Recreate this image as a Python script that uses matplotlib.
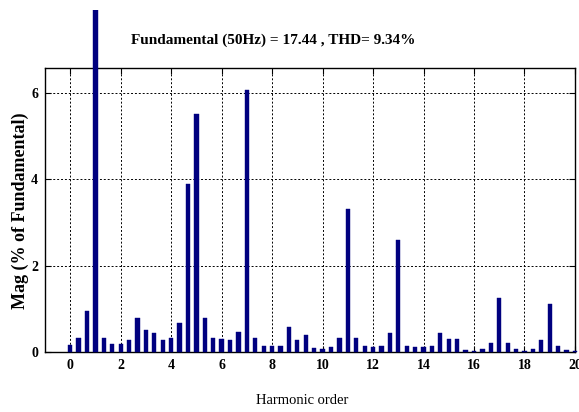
import matplotlib
matplotlib.use("Agg")
import matplotlib.pyplot as plt
from matplotlib.transforms import Bbox, TransformedBbox

# harmonic order in steps of 1/3 (0 .. 20)
orders = [k / 3 for k in range(61)]
mag = [0.17, 0.33, 0.95, 100.0, 0.33, 0.19, 0.19, 0.27, 0.79, 0.50,
       0.43, 0.27, 0.33, 0.68, 3.90, 5.50, 0.79, 0.33, 0.29, 0.27,
       0.46, 6.07, 0.33, 0.15, 0.14, 0.15, 0.59, 0.27, 0.39, 0.10,
       0.08, 0.12, 0.33, 3.30, 0.33, 0.15, 0.12, 0.15, 0.43, 2.60,
       0.15, 0.12, 0.12, 0.15, 0.43, 0.29, 0.29, 0.04, 0.03, 0.06,
       0.22, 1.24, 0.22, 0.06, 0.02, 0.06, 0.27, 1.10, 0.15, 0.04,
       0.02]
xticks = [0, 2, 4, 6, 8, 10, 12, 14, 16, 18, 20]
yticks = [0, 2, 4, 6]

title = "Fundamental (50Hz) = 17.44 , THD= 9.34%"
serif = "Liberation Serif"


def main():
    fig = plt.figure(figsize=(5.79, 4.12), dpi=100)
    ax = fig.add_axes([0.0777, 0.1456, 0.9153, 0.689])

    bars = ax.bar(orders, mag, width=0.17, color="#00007f", edgecolor="#00007f",
                  linewidth=0.3, zorder=3)
    # the fundamental bar runs out of the axes, up to near the top of the figure
    box = TransformedBbox(Bbox([[0, 0], [1, 402 / 412]]), fig.transFigure)
    for b in bars:
        b.set_clip_box(box)

    ax.set_xlim(-1, 20)
    ax.set_ylim(0, 6.57)
    ax.set_xticks(xticks)
    ax.set_yticks(yticks)
    ax.set_xticklabels([str(t) for t in xticks], fontfamily=serif,
                       fontweight="bold", fontsize=10)
    ax.set_yticklabels([str(t) for t in yticks], fontfamily=serif,
                       fontweight="bold", fontsize=10)
    ax.tick_params(direction="in", length=4, width=0.8, top=True, right=True,
                   pad=5)
    ax.grid(True, color="black", linestyle=(0, (2, 2)), linewidth=0.7, zorder=0)
    for s in ax.spines.values():
        s.set_linewidth(1.0)

    fig.text(273 / 579, 1 - 40 / 412, title, ha="center", va="center",
             fontfamily=serif, fontweight="bold", fontsize=11)
    fig.text(302 / 579, 1 - 400 / 412, "Harmonic order", ha="center",
             va="center", fontfamily=serif, fontsize=10.5)
    fig.text(20 / 579, 1 - 211 / 412, "Mag (% of Fundamental)", ha="center",
             va="center", rotation=90, fontfamily=serif, fontweight="bold",
             fontsize=13)

    fig.savefig("out.png", dpi=100)


if __name__ == "__main__":
    main()
